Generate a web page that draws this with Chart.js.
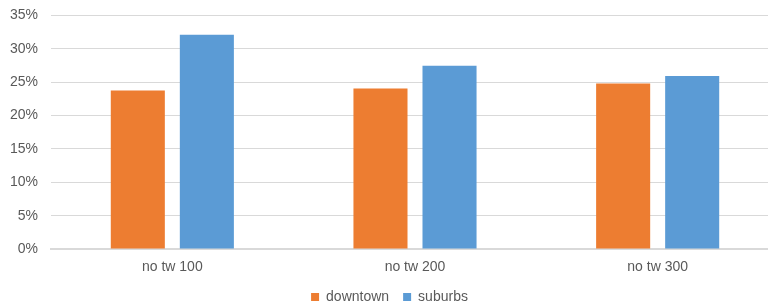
<!DOCTYPE html>
<html>
<head>
<meta charset="utf-8">
<script src="https://cdn.jsdelivr.net/npm/chart.js@4"></script>
<style>
  html, body { margin: 0; padding: 0; overflow: hidden; background: #fff; }
  #wrap { width: 780px; height: 305px; position: relative; }
</style>
</head>
<body>
<div id="wrap"><canvas id="barChart"></canvas></div>
<script>
const categories = ['no tw 100', 'no tw 200', 'no tw 300'];
const downtown = [0.2375, 0.2405, 0.248];
const suburbs = [0.321, 0.2745, 0.2595];

Chart.defaults.font.family = '"Liberation Sans", Arial, sans-serif';
Chart.defaults.font.size = 14;
Chart.defaults.color = '#595959';

const ctx = document.getElementById('barChart');
new Chart(ctx, {
    type: 'bar',
    data: {
        labels: categories,
        datasets: [{
            label: 'downtown',
            data: downtown,
            backgroundColor: '#ED7D31',
            categoryPercentage: 0.569,
            barPercentage: 0.783
        }, {
            label: 'suburbs',
            data: suburbs,
            backgroundColor: '#5B9BD5',
            categoryPercentage: 0.569,
            barPercentage: 0.783
        }]
    },
    options: {
        responsive: true,
        maintainAspectRatio: false,
        animation: false,
        layout: { padding: { top: 15.5, right: 1, left: 0, bottom: -9 } },
        plugins: {
            tooltip: { enabled: false },
            legend: {
                position: 'bottom',
                labels: { boxWidth: 8, boxHeight: 8, padding: 14, color: '#595959' }
            }
        },
        scales: {
            x: {
                afterFit: (s) => { s.height = 27; },
                grid: { display: false, drawTicks: false },
                border: { color: '#D9D9D9', width: 2 },
                ticks: { padding: 10 }
            },
            y: {
                min: 0,
                max: 0.35,
                afterFit: (s) => {
                    s.width = 51;
                    s.paddingTop = 0;
                    s.paddingBottom = 0;
                },
                border: { display: false },
                grid: { color: '#D9D9D9', drawTicks: false },
                ticks: {
                    stepSize: 0.05,
                    padding: 13,
                    callback: (v) => Math.round(v * 100) + '%'
                }
            }
        }
    }
});
</script>
</body>
</html>
